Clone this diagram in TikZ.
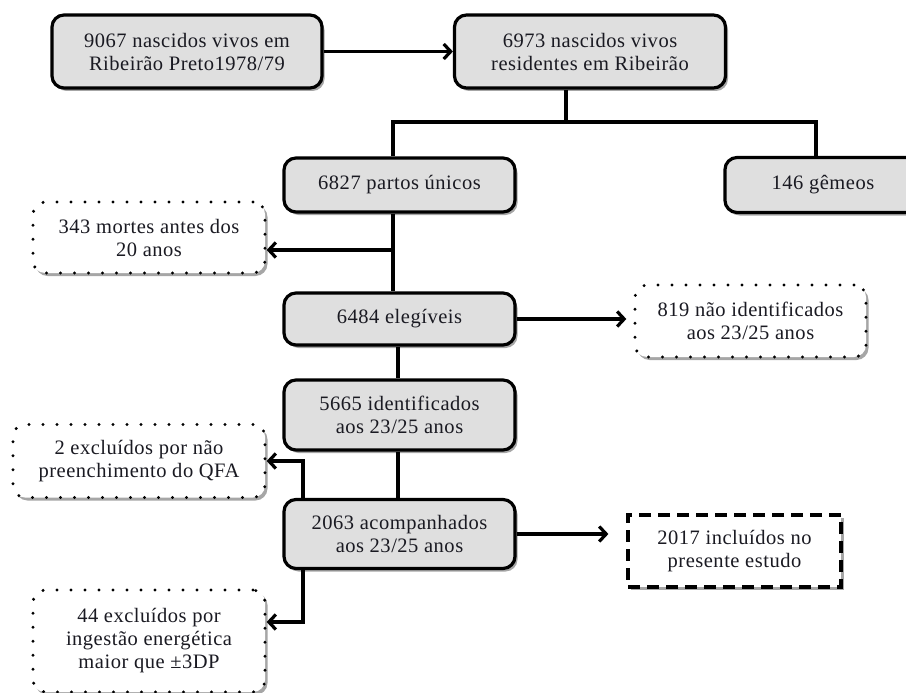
\documentclass[tikz,border=0pt]{standalone}
\usepackage{fontspec}
\setmainfont{Liberation Serif}[LetterSpace=2.5]
\usetikzlibrary{arrows.meta,shadows}
\definecolor{boxgray}{HTML}{DFDFDF}
\definecolor{txt}{HTML}{1A1A22}
\begin{document}
\begin{tikzpicture}[x=1pt,y=-1pt,
  every node/.style={font=\fontsize{20.5}{23}\selectfont, text=txt, align=center, inner sep=0pt},
  myshadow/.style={drop shadow={shadow xshift=2.5pt,shadow yshift=-3pt,fill=black,opacity=.35}},
  graybox/.style={draw=black, line width=3.2pt, fill=boxgray, rounded corners=12pt, myshadow},
  dotbox/.style={draw=black, line width=3.3pt, fill=white, rounded corners=12pt,
    dash pattern=on 0pt off 14pt, line cap=round, myshadow},
  dashbox/.style={draw=black, line width=3.2pt, fill=white, dash pattern=on 12pt off 7pt, myshadow},
  conn/.style={draw=black, line width=3.2pt},
  arr/.style={conn, -{Straight Barb[length=7pt,width=15pt]}}
]
\useasboundingbox (0,0) rectangle (906,693);

\node[graybox, minimum width=270pt, minimum height=73pt] (A) at (187,51.5) {9067 nascidos vivos em\\Ribeirão Preto1978/79};
\node[graybox, minimum width=271pt, minimum height=73pt] (B) at (590,51.5) {6973 nascidos vivos\\residentes em Ribeirão};
\node[graybox, minimum width=231pt, minimum height=54pt] (C) at (399.5,185) {6827 partos únicos};
\node[graybox, minimum width=196pt, minimum height=55pt] (D) at (823,185) {146 gêmeos};
\node[dotbox, minimum width=232pt, minimum height=71pt] (E) at (149,237.5) {343 mortes antes dos\\20 anos};
\node[graybox, minimum width=231pt, minimum height=52pt] (F) at (399.5,319) {6484 elegíveis};
\node[dotbox, minimum width=231pt, minimum height=72pt] (G) at (750.5,321) {819 não identificados\\aos 23/25 anos};
\node[graybox, minimum width=231pt, minimum height=70pt] (H) at (399.5,415) {5665 identificados\\aos 23/25 anos};
\node[graybox, minimum width=231pt, minimum height=69pt] (I) at (399.5,534) {2063 acompanhados\\aos 23/25 anos};
\node[dotbox, minimum width=252pt, minimum height=73pt] (J) at (139,461) {2 excluídos por não\\preenchimento do QFA};
\node[dotbox, minimum width=232pt, minimum height=102pt] (K) at (149,641) {44 excluídos por\\ingestão energética\\maior que ±3DP};
\node[dashbox, minimum width=213pt, minimum height=72pt] (L) at (734.5,551) {2017 incluídos no\\presente estudo};

\coordinate (b1) at (566,122);
\coordinate (jl) at (393,122);
\coordinate (jr) at (816,122);
\coordinate (e1) at (393,250);
\coordinate (t2) at (398,0);
\coordinate (s) at (303,0);

\draw[arr] (A) -- (B);
\draw[conn] (b1 |- B.south) -- (b1);
\draw[conn] (jl |- C.north) -- (jl) -- (jr) -- (jr |- D.north);
\draw[conn] (jl |- C.south) -- (jl |- F.north);
\draw[arr] (e1) -- (e1 -| E.east);
\draw[arr, shorten >=7pt] (F.east) -- (F.east -| G.west);
\draw[conn] (t2 |- F.south) -- (t2 |- H.north);
\draw[conn] (t2 |- H.south) -- (t2 |- I.north);
\draw[arr] (s |- I.north) |- (J.east);
\draw[arr] (s |- I.south) |- ([yshift=19pt]K.east);
\draw[arr, shorten >=18pt] (I.east) -- (I.east -| L.west);
\end{tikzpicture}
\end{document}
